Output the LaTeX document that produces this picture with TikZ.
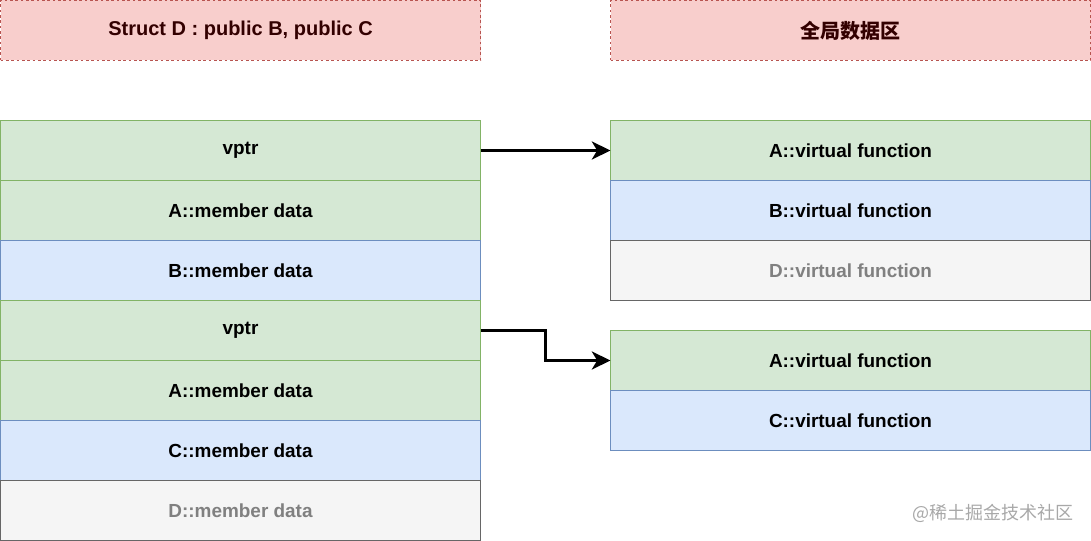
\documentclass[tikz,border=0pt]{standalone}
\usepackage{fontspec}
\setmainfont{Liberation Sans}
\newfontfamily\cjk{Noto Sans CJK SC}
\usetikzlibrary{arrows.meta}
\definecolor{gfill}{HTML}{D5E8D4}
\definecolor{gline}{HTML}{82B366}
\definecolor{bfill}{HTML}{DAE8FC}
\definecolor{bline}{HTML}{6C8EBF}
\definecolor{hfill}{HTML}{F5F5F5}
\definecolor{hline}{HTML}{666666}
\definecolor{htext}{HTML}{808080}
\definecolor{rfill}{HTML}{F8CECC}
\definecolor{rline}{HTML}{B85450}
\definecolor{rtext}{HTML}{330000}
\definecolor{wm}{HTML}{A8A8A8}
\begin{document}
\begin{tikzpicture}[x=0.75pt,y=-0.75pt,
  cell/.style={minimum width=360pt,minimum height=45pt,inner sep=0pt,outer sep=0pt,font=\fontsize{14.2pt}{17pt}\selectfont\bfseries,line width=0.6pt},
  gcell/.style={cell,fill=gfill,draw=gline},
  bcell/.style={cell,fill=bfill,draw=bline},
  hcell/.style={cell,fill=hfill,draw=hline,text=htext},
  head/.style={cell,fill=rfill,draw=rline,dashed,dash pattern=on 2pt off 2pt,text=rtext,font=\fontsize{15pt}{18pt}\selectfont\bfseries},
  link/.style={line width=2.25pt,-{Stealth[length=14pt,width=13.5pt,inset=4pt]}}]
\useasboundingbox (0,0) rectangle (1091,541);
\node[head,anchor=north west] (h1) at (0.5,0.5) {Struct D : public B, public C};
\node[head,anchor=north west] (h2) at (610.5,0.5) {\cjk\bfseries 全局数据区};
% left column
\node[gcell,anchor=north west] (l1) at (0.5,120.5) {vptr};
\node[gcell,anchor=north west] (l2) at (0.5,180.5) {A::member data};
\node[bcell,anchor=north west] (l3) at (0.5,240.5) {B::member data};
\node[gcell,anchor=north west] (l4) at (0.5,300.5) {vptr};
\node[gcell,anchor=north west] (l5) at (0.5,360.5) {A::member data};
\node[bcell,anchor=north west] (l6) at (0.5,420.5) {C::member data};
\node[hcell,anchor=north west] (l7) at (0.5,480.5) {D::member data};
% right column
\node[gcell,anchor=north west] (r1) at (610.5,120.5) {A::virtual function};
\node[bcell,anchor=north west] (r2) at (610.5,180.5) {B::virtual function};
\node[hcell,anchor=north west] (r3) at (610.5,240.5) {D::virtual function};
\node[gcell,anchor=north west] (r4) at (610.5,330.5) {A::virtual function};
\node[bcell,anchor=north west] (r5) at (610.5,390.5) {C::virtual function};
% arrows
\draw[link] (l1.east) -- (r1.west);
\coordinate (k1) at (545.5,330.5);
\coordinate (k2) at (545.5,360.5);
\draw[link] (l4.east) -- (k1) -- (k2) -- (r4.west);
% watermark
\node[anchor=east,text=wm,font=\cjk\fontsize{13.5pt}{15pt}\selectfont,inner sep=0pt] (wm) at (1074,513) {@稀土掘金技术社区};
\end{tikzpicture}
\end{document}
